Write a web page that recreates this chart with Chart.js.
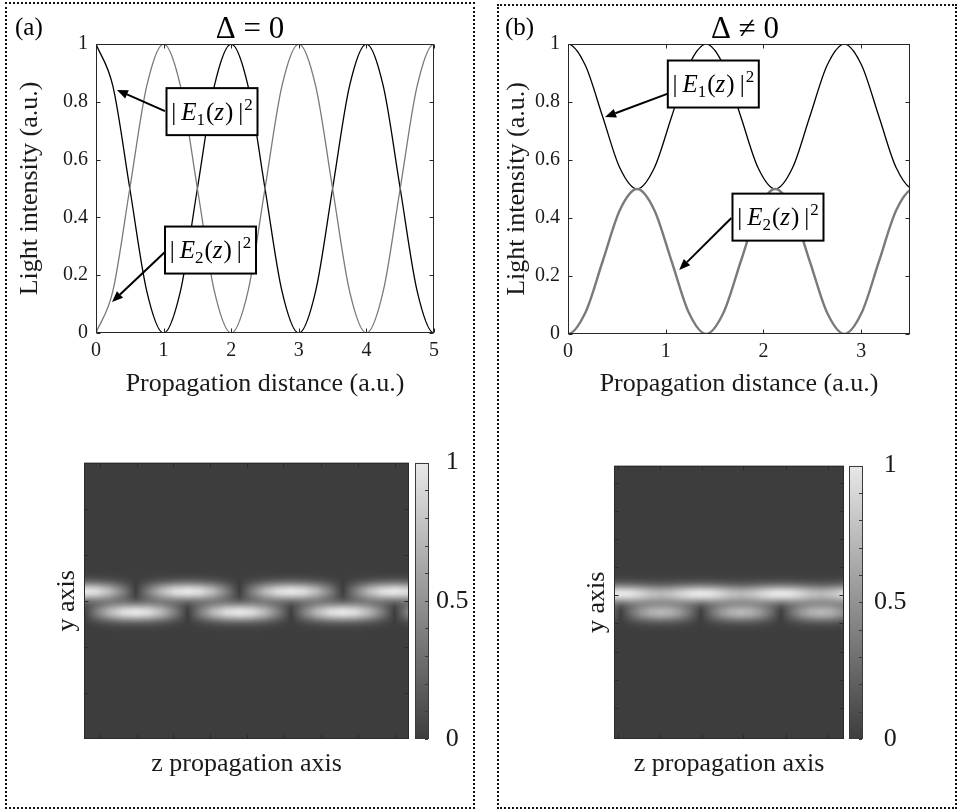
<!DOCTYPE html>
<html>
<head>
<meta charset="utf-8">
<script src="https://cdn.jsdelivr.net/npm/chart.js@4.4.1/dist/chart.umd.min.js"></script>
<style>
  body { margin: 0; background: #fff; }
  #fig { position: relative; width: 960px; height: 811px; overflow: hidden; }
  #fig canvas { position: absolute; }
  .panel { position: absolute; border: 2px dotted #111; box-sizing: border-box; }
</style>
</head>
<body>
<div id="fig">
  <div class="panel" style="left:5px;top:2px;width:470px;height:807px"></div>
  <div class="panel" style="left:497px;top:4px;width:460px;height:805px"></div>
  <canvas id="lineA" width="480" height="410" style="left:0;top:0"></canvas>
  <canvas id="lineB" width="480" height="410" style="left:480px;top:0"></canvas>
  <canvas id="heatA" width="480" height="390" style="left:0;top:420px"></canvas>
  <canvas id="heatB" width="480" height="390" style="left:480px;top:420px"></canvas>
</div>
<script>
// (a) matched guides: propagation distance and the two intensities
const zA  = [0, 0.25, 0.5, 0.75, 1, 1.25, 1.5, 1.75, 2, 2.25, 2.5, 2.75, 3, 3.25, 3.5, 3.75, 4, 4.25, 4.5, 4.75, 5, 5.25, 5.5, 5.75, 6, 6.25, 6.5];
const e1A = [1, 0.854, 0.5, 0.146, 0, 0.146, 0.5, 0.854, 1, 0.854, 0.5, 0.146, 0, 0.146, 0.5, 0.854, 1, 0.854, 0.5, 0.146, 0, 0.146, 0.5, 0.854, 1, 0.854, 0.5];
const e2A = [0, 0.146, 0.5, 0.854, 1, 0.854, 0.5, 0.146, 0, 0.146, 0.5, 0.854, 1, 0.854, 0.5, 0.146, 0, 0.146, 0.5, 0.854, 1, 0.854, 0.5, 0.146, 0, 0.146, 0.5];

// (b) detuned guides
const zB  = [-0.177, 0, 0.177, 0.354, 0.53, 0.707, 0.884, 1.061, 1.237, 1.414, 1.591, 1.768, 1.945, 2.121, 2.298, 2.475, 2.652, 2.828, 3.005, 3.182, 3.359, 3.536, 3.712, 3.889, 4.066];
const e1B = [0.927, 1, 0.927, 0.75, 0.573, 0.5, 0.573, 0.75, 0.927, 1, 0.927, 0.75, 0.573, 0.5, 0.573, 0.75, 0.927, 1, 0.927, 0.75, 0.573, 0.5, 0.573, 0.75, 0.927];
const e2B = [0.073, 0, 0.073, 0.25, 0.427, 0.5, 0.427, 0.25, 0.073, 0, 0.073, 0.25, 0.427, 0.5, 0.427, 0.25, 0.073, 0, 0.073, 0.25, 0.427, 0.5, 0.427, 0.25, 0.073];

// guide centres across the beam maps (upper = guide 1, lower = guide 2)
const guidesA = [0.07, -0.08];
const guidesB = [0.065, -0.072];

// tick values
const xTicksA = [0, 1, 2, 3, 4, 5];
const xTicksB = [0, 1, 2, 3];
const yTicks = [0, 0.2, 0.4, 0.6, 0.8, 1];
const heatXTicksA = [0.31, 1.02, 1.72, 2.43, 3.15, 3.85, 4.58, 5.29, 6.01];
const heatYTicksA = [-0.667, -0.333, 0, 0.333, 0.667];
const heatXTicksB = [-0.05, 0.69, 1.43, 2.16, 2.92, 3.66];
const heatYTicksB = [-0.773, -0.567, -0.361, -0.155, 0.052, 0.258, 0.464, 0.67, 0.876];
const cbLabels = [0, 0.5, 1];
const cbMinor = [0, 0.1, 0.2, 0.3, 0.4, 0.5, 0.6, 0.7, 0.8, 0.9, 1];

Chart.defaults.font.family = '"Liberation Serif", "Times New Roman", serif';
Chart.defaults.color = '#1a1a1a';

const SERIF = '"Liberation Serif", "Times New Roman", serif';
const LO = 61, HI = 232;   // grey levels at 0 and 1
const grey = v => { const g = Math.round(LO + (HI - LO) * v); return `rgb(${g},${g},${g})`; };
const setTicks = arr => s => { s.ticks = arr.map(v => ({ value: v })); };

// box with inward ticks on all four sides, plus optional colour bar
const framePlugin = {
  id: 'frame',
  afterDatasetsDraw(chart, args, o) {
    const { ctx, chartArea: a, scales } = chart;
    const L = Math.round(a.left) + 0.5, R = Math.round(a.right) - 0.5;
    const T = Math.round(a.top) + 0.5, B = Math.round(a.bottom) - 0.5;
    ctx.save();
    ctx.strokeStyle = o.color;
    ctx.lineWidth = 1;
    ctx.beginPath();
    scales.x.ticks.forEach(t => {
      const p = Math.round(scales.x.getPixelForValue(t.value)) + 0.5;
      ctx.moveTo(p, B); ctx.lineTo(p, B - o.len);
      ctx.moveTo(p, T); ctx.lineTo(p, T + o.len);
    });
    scales.y.ticks.forEach(t => {
      const p = Math.round(scales.y.getPixelForValue(t.value)) + 0.5;
      ctx.moveTo(L, p); ctx.lineTo(L + o.len, p);
      ctx.moveTo(R, p); ctx.lineTo(R - o.len, p);
    });
    ctx.stroke();
    ctx.strokeRect(L, T, R - L, B - T);

    if (o.colorbar) {
      const cb = scales.cb;
      const x0 = Math.round(a.right) + o.colorbar.gap, w = o.colorbar.width;
      const y1 = cb.getPixelForValue(1), y0 = cb.getPixelForValue(0);
      const g = ctx.createLinearGradient(0, y0, 0, y1);
      g.addColorStop(0, grey(0));
      g.addColorStop(1, grey(1));
      ctx.fillStyle = g;
      ctx.fillRect(x0, y1, w, y0 - y1);
      ctx.strokeStyle = '#3a3a3a';
      ctx.strokeRect(x0 + 0.5, Math.round(y1) + 0.5, w - 1, Math.round(y0 - y1) - 1);
      ctx.beginPath();
      o.colorbar.minor.forEach(v => {
        const p = Math.round(cb.getPixelForValue(v)) + 0.5;
        ctx.moveTo(x0 + w - 1, p); ctx.lineTo(x0 + w - 4, p);
      });
      ctx.stroke();
    }
    ctx.restore();
  }
};

// beam map: each guide row is a horizontal gradient of its field amplitude |E| = sqrt(intensity),
// masked across y by a gaussian mode profile and added onto the zero level
const heatPlugin = {
  id: 'heat',
  beforeDatasetsDraw(chart, args, o) {
    const { ctx, chartArea: a, scales: { x, y } } = chart;
    const w = Math.round(a.right - a.left), h = Math.round(a.bottom - a.top);
    ctx.save();
    ctx.fillStyle = grey(0);
    ctx.fillRect(a.left, a.top, w, h);
    const gain = (HI - LO) / 255;
    chart.data.datasets.forEach(ds => {
      const pts = ds.data;
      const off = document.createElement('canvas');
      off.width = w; off.height = h;
      const c = off.getContext('2d');
      const p0 = x.getPixelForValue(pts[0].x) - a.left;
      const p1 = x.getPixelForValue(pts[pts.length - 1].x) - a.left;
      const gh = c.createLinearGradient(p0, 0, p1, 0);
      pts.forEach(p => {
        const f = (x.getPixelForValue(p.x) - a.left - p0) / (p1 - p0);
        gh.addColorStop(Math.min(1, Math.max(0, f)), `rgba(255,255,255,${(Math.sqrt(p.v) * gain).toFixed(4)})`);
      });
      c.fillStyle = gh;
      c.fillRect(0, 0, w, h);
      const cy = y.getPixelForValue(pts[0].y) - a.top;
      const s = o.sigma;
      const gv = c.createLinearGradient(0, cy - 3 * s, 0, cy + 3 * s);
      for (let k = 0; k <= 24; k++) {
        const d = (k - 12) / 4;
        gv.addColorStop(k / 24, `rgba(0,0,0,${Math.exp(-d * d).toFixed(4)})`);
      }
      c.globalCompositeOperation = 'destination-in';
      c.fillStyle = gv;
      c.fillRect(0, 0, w, h);
      ctx.globalCompositeOperation = 'lighter';
      ctx.drawImage(off, Math.round(a.left), Math.round(a.top));
      ctx.globalCompositeOperation = 'source-over';
    });
    ctx.restore();
  }
};

// boxed |E_n(z)|^2 labels with arrows pointing to their curves
function drawLabel(ctx, cx, cy, sub) {
  const big = `25px ${SERIF}`, ital = `italic 25px ${SERIF}`, small = `17px ${SERIF}`;
  const parts = [
    { t: '|', f: big, dy: 0, after: 5 },
    { t: 'E', f: ital, dy: 0, after: 0 },
    { t: sub, f: small, dy: 5, after: 1 },
    { t: '(', f: big, dy: 0, after: 0 },
    { t: 'z', f: ital, dy: 0, after: 1 },
    { t: ')', f: big, dy: 0, after: 5 },
    { t: '|', f: big, dy: 0, after: 1 },
    { t: '2', f: small, dy: -10, after: 0 }
  ];
  let total = 0;
  parts.forEach(p => { ctx.font = p.f; p.w = ctx.measureText(p.t).width; total += p.w + p.after; });
  let px = cx - total / 2;
  ctx.fillStyle = '#000';
  ctx.textBaseline = 'alphabetic';
  ctx.textAlign = 'left';
  parts.forEach(p => {
    ctx.font = p.f;
    ctx.fillText(p.t, px, cy + 8 + p.dy);
    px += p.w + p.after;
  });
  return total;
}

const calloutPlugin = {
  id: 'callouts',
  afterDatasetsDraw(chart, args, o) {
    const { ctx, scales: { x, y } } = chart;
    ctx.save();
    o.items.forEach(n => {
      const tx = x.getPixelForValue(n.tail[0]), ty = y.getPixelForValue(n.tail[1]);
      const hx = x.getPixelForValue(n.tip[0]), hy = y.getPixelForValue(n.tip[1]);
      const ang = Math.atan2(hy - ty, hx - tx);
      const hl = 11, hw = 4.5;
      const bx = hx - hl * Math.cos(ang), by = hy - hl * Math.sin(ang);
      ctx.strokeStyle = '#000';
      ctx.fillStyle = '#000';
      ctx.lineWidth = 2;
      ctx.beginPath(); ctx.moveTo(tx, ty); ctx.lineTo(bx, by); ctx.stroke();
      ctx.beginPath();
      ctx.moveTo(hx, hy);
      ctx.lineTo(bx + hw * Math.sin(ang), by - hw * Math.cos(ang));
      ctx.lineTo(bx - hw * Math.sin(ang), by + hw * Math.cos(ang));
      ctx.closePath(); ctx.fill();

      const cx = x.getPixelForValue(n.at[0]), cy = y.getPixelForValue(n.at[1]);
      const bw = 91, bh = 47;
      ctx.fillStyle = '#fff';
      ctx.fillRect(cx - bw / 2, cy - bh / 2, bw, bh);
      ctx.lineWidth = 2;
      ctx.strokeRect(cx - bw / 2, cy - bh / 2, bw, bh);
      drawLabel(ctx, cx, cy, n.sub);
    });
    ctx.restore();
  }
};

// panel tag and title
const headingPlugin = {
  id: 'heading',
  afterDraw(chart, args, o) {
    const { ctx } = chart;
    ctx.save();
    ctx.fillStyle = '#000';
    ctx.textBaseline = 'alphabetic';
    ctx.font = `25px ${SERIF}`;
    ctx.textAlign = 'left';
    ctx.fillText(o.tag, o.tagX, 35);
    ctx.font = `31px ${SERIF}`;
    ctx.textAlign = 'center';
    ctx.fillText(o.title, o.titleX, 38);
    ctx.restore();
  }
};

function lineChart(id, z, e1, e2, o) {
  return new Chart(document.getElementById(id), {
    type: 'line',
    data: {
      datasets: [
        { data: z.map((v, i) => ({ x: v, y: e2[i] })), borderColor: '#7a7a7a', borderWidth: o.w2 },
        { data: z.map((v, i) => ({ x: v, y: e1[i] })), borderColor: '#000', borderWidth: 1.3 }
      ]
    },
    options: {
      responsive: false,
      animation: false,
      events: [],
      layout: { padding: { top: 44, right: o.padRight, left: 0, bottom: 0 } },
      elements: { point: { radius: 0 }, line: { cubicInterpolationMode: 'monotone', fill: false } },
      scales: {
        x: {
          type: 'linear', min: 0, max: o.xMax,
          afterBuildTicks: setTicks(o.xTicks),
          afterFit: s => { s.height = o.xH; },
          grid: { display: false, drawTicks: false },
          border: { display: false },
          ticks: { padding: 6, font: { size: 20 }, callback: v => String(v) },
          title: { display: true, text: 'Propagation distance (a.u.)', font: { size: 26 }, padding: { top: 0, bottom: 10 } }
        },
        y: {
          type: 'linear', min: 0, max: 1,
          afterBuildTicks: setTicks(yTicks),
          afterFit: s => { s.width = o.yW; },
          grid: { display: false, drawTicks: false },
          border: { display: false },
          ticks: { padding: 8, font: { size: 20 }, callback: v => String(v) },
          title: { display: true, text: 'Light intensity (a.u.)', font: { size: 26 }, padding: { top: o.yTitlePad, bottom: 0 } }
        }
      },
      plugins: {
        legend: { display: false },
        tooltip: { enabled: false },
        frame: { color: '#262626', len: 4 },
        callouts: { items: o.notes },
        heading: o.heading
      }
    },
    plugins: [framePlugin, calloutPlugin, headingPlugin]
  });
}

function heatChart(id, z, e1, e2, o) {
  return new Chart(document.getElementById(id), {
    type: 'scatter',
    data: {
      datasets: [
        { data: z.map((v, i) => ({ x: v, y: o.guides[0], v: e1[i] })), pointRadius: 0 },
        { data: z.map((v, i) => ({ x: v, y: o.guides[1], v: e2[i] })), pointRadius: 0 }
      ]
    },
    options: {
      responsive: false,
      animation: false,
      events: [],
      layout: { padding: { top: o.top, right: 0, left: 0, bottom: 0 } },
      scales: {
        x: {
          type: 'linear', min: o.xMin, max: o.xMax,
          afterBuildTicks: setTicks(o.xTicks),
          afterFit: s => { s.height = 71; },
          grid: { display: false, drawTicks: false },
          border: { display: false },
          ticks: { display: false },
          title: { display: true, text: 'z propagation axis', font: { size: 26 }, padding: { top: 0, bottom: 30 } }
        },
        y: {
          type: 'linear', min: -1, max: 1,
          afterBuildTicks: setTicks(o.yTicks),
          afterFit: s => { s.width = o.yW; },
          grid: { display: false, drawTicks: false },
          border: { display: false },
          ticks: { display: false },
          title: { display: true, text: 'y axis', font: { size: 26 }, padding: { top: o.yTitlePad, bottom: 0 } }
        },
        cb: {
          axis: 'y', position: 'right', type: 'linear', min: 0, max: 1,
          afterBuildTicks: setTicks(cbLabels),
          afterFit: s => { s.width = o.cbW; },
          grid: { display: false, drawTicks: false },
          border: { display: false },
          ticks: { padding: o.cbPad, crossAlign: 'center', font: { size: 26 }, callback: v => String(v) }
        }
      },
      plugins: {
        legend: { display: false },
        tooltip: { enabled: false },
        heat: { sigma: 9 },
        frame: { color: '#2a2a2a', len: 4, colorbar: { gap: o.cbGap, width: 14, minor: cbMinor } }
      }
    },
    plugins: [heatPlugin, framePlugin]
  });
}

lineChart('lineA', zA, e1A, e2A, {
  xMax: 5, xTicks: xTicksA, w2: 1.3, padRight: 46, xH: 77, yW: 96, yTitlePad: 15,
  heading: { tag: '(a)', tagX: 15, title: 'Δ = 0', titleX: 250 },
  notes: [
    { sub: '1', at: [1.716, 0.766], tail: [1.02, 0.768], tip: [0.31, 0.841] },
    { sub: '2', at: [1.694, 0.287], tail: [1.02, 0.28], tip: [0.237, 0.107] }
  ]
});

lineChart('lineB', zB, e1B, e2B, {
  xMax: 3.5, xTicks: xTicksB, w2: 2.4, padRight: 50, xH: 76, yW: 88, yTitlePad: 22,
  heading: { tag: '(b)', tagX: 25, title: 'Δ ≠ 0', titleX: 265 },
  notes: [
    { sub: '1', at: [1.487, 0.862], tail: [1.015, 0.828], tip: [0.379, 0.748] },
    { sub: '2', at: [2.149, 0.403], tail: [1.672, 0.4], tip: [1.138, 0.221] }
  ]
});

heatChart('heatA', zA, e1A, e2A, {
  guides: guidesA, xMin: 0, xMax: 6.28, xTicks: heatXTicksA, yTicks: heatYTicksA,
  top: 41, yW: 84, yTitlePad: 52, cbW: 71, cbPad: 27, cbGap: 6
});

heatChart('heatB', zB, e1B, e2B, {
  guides: guidesB, xMin: -0.12, xMax: 3.94, xTicks: heatXTicksB, yTicks: heatYTicksB,
  top: 28, yW: 134, yTitlePad: 102, cbW: 116, cbPad: 30, cbGap: 5
});
</script>
</body>
</html>
